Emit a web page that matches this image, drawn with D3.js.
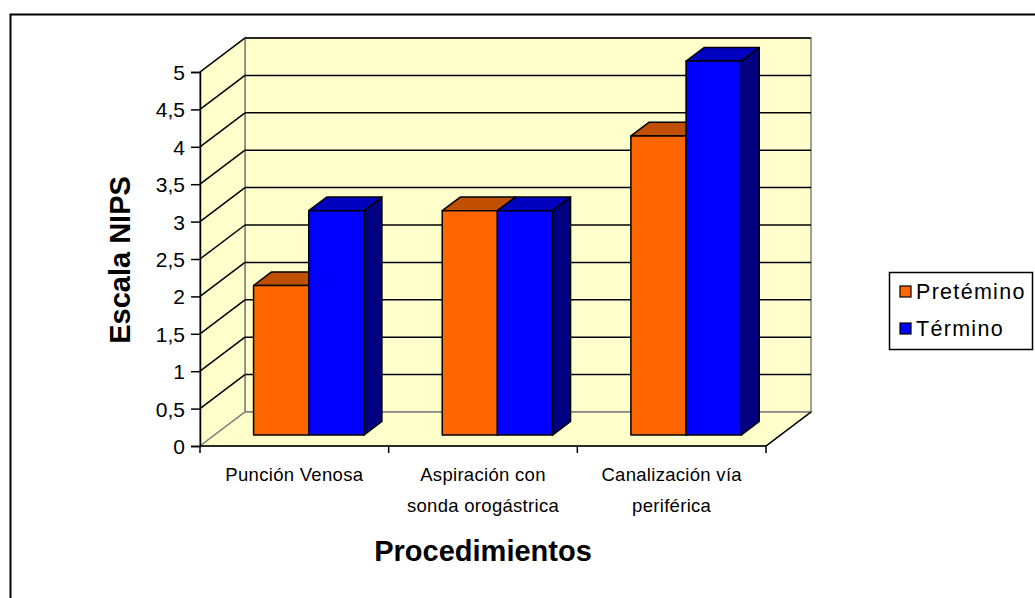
<!DOCTYPE html>
<html>
<head>
<meta charset="utf-8">
<script src="https://cdn.jsdelivr.net/npm/d3@7/dist/d3.min.js"></script>
<style>
  html, body { margin: 0; padding: 0; background: #fff; }
  svg { display: block; font-family: Arial, "Liberation Sans", sans-serif; }
</style>
</head>
<body>
<svg id="chart" width="1035" height="598"></svg>
<script>
// Chart data
const categories = [
  ["Punción Venosa"],
  ["Aspiración con", "sonda orogástrica"],
  ["Canalización vía", "periférica"]
];
const seriesNames = ["Pretémino", "Término"];
const pretermino = [2, 3, 4];
const termino = [3, 3, 5];
const yTicks = [0, 0.5, 1, 1.5, 2, 2.5, 3, 3.5, 4, 4.5, 5];
const yTickLabels = ["0", "0,5", "1", "1,5", "2", "2,5", "3", "3,5", "4", "4,5", "5"];

const values = [pretermino, termino];
const frontColors = ["#FF6600", "#0000FF"];
const topColors = ["#C04F00", "#0000C0"];
const sideColors = ["#A04000", "#000080"];
const fontFamily = "Arial, 'Liberation Sans', sans-serif";

const svg = d3.select("#chart");

// Layout of the 3D box: front plane and depth offset
const plot = { left: 200, right: 766, top: 72, bottom: 446 };
const depth = { dx: 45, dy: -34 };
const barFront = 0.32, barBack = 0.72;   // bar position along depth (0 = front, 1 = back wall)

const catIdx = categories.map((d, i) => i);
const x = d3.scaleBand().domain(catIdx).range([plot.left, plot.right]).padding(0);
const xs = d3.scaleBand().domain([0, 1]).range([0, x.bandwidth()]).paddingInner(0).paddingOuter(0.71);
const y = d3.scaleLinear().domain([0, 5]).range([plot.bottom, plot.top]);

const P = (px, py, t) => [px + depth.dx * t, py + depth.dy * t];
const poly = pts => "M" + pts.map(p => p.join(",")).join("L") + "Z";

// Outer frame
svg.append("rect").attr("x", 10.5).attr("y", 14.5).attr("width", 1100).attr("height", 700)
  .attr("fill", "#fff").attr("stroke", "#000").attr("stroke-width", 2);

const wallFill = "#FFFFCC", wallEdge = "#808080";

// Back wall
const y0 = y(0), y5 = y(5);
svg.append("path")
  .attr("d", poly([P(plot.left, y5, 1), P(plot.right, y5, 1), P(plot.right, y0, 1), P(plot.left, y0, 1)]))
  .attr("fill", wallFill).attr("stroke", wallEdge).attr("stroke-width", 1.5);
// Side wall
svg.append("path")
  .attr("d", poly([P(plot.left, y5, 0), P(plot.left, y5, 1), P(plot.left, y0, 1), P(plot.left, y0, 0)]))
  .attr("fill", wallFill).attr("stroke", wallEdge).attr("stroke-width", 1.5);
// Floor
svg.append("path")
  .attr("d", poly([P(plot.left, y0, 0), P(plot.left, y0, 1), P(plot.right, y0, 1), P(plot.right, y0, 0)]))
  .attr("fill", wallFill).attr("stroke", wallEdge).attr("stroke-width", 1.5);

// Gridlines on the back wall and the side wall
yTicks.filter(v => v > 0).forEach(v => {
  const a = P(plot.left, y(v), 1), b = P(plot.right, y(v), 1), c = P(plot.left, y(v), 0);
  svg.append("line").attr("x1", a[0]).attr("y1", a[1]).attr("x2", b[0]).attr("y2", b[1])
    .attr("stroke", "#000").attr("stroke-width", 1.5);
  svg.append("line").attr("x1", c[0]).attr("y1", c[1]).attr("x2", a[0]).attr("y2", a[1])
    .attr("stroke", "#000").attr("stroke-width", 1.5);
});

// Floor right edge
const fr = P(plot.right, y0, 1);
svg.append("line").attr("x1", plot.right).attr("y1", y0).attr("x2", fr[0]).attr("y2", fr[1])
  .attr("stroke", "#000").attr("stroke-width", 1.5);

// Bars
const bars = svg.append("g");
catIdx.forEach(ci => {
  [0, 1].forEach(si => {
    const v = values[si][ci];
    const xl = x(ci) + xs(si), xr = xl + xs.bandwidth();
    const yt = y(v), yb = y(0);
    const g = bars.append("g").attr("stroke", "#000").attr("stroke-width", 1.5).attr("stroke-linejoin", "round");
    // side face
    g.append("path").attr("fill", sideColors[si])
      .attr("d", poly([P(xr, yt, barFront), P(xr, yt, barBack), P(xr, yb, barBack), P(xr, yb, barFront)]));
    // top face
    g.append("path").attr("fill", topColors[si])
      .attr("d", poly([P(xl, yt, barFront), P(xl, yt, barBack), P(xr, yt, barBack), P(xr, yt, barFront)]));
    // front face
    g.append("path").attr("fill", frontColors[si])
      .attr("d", poly([P(xl, yt, barFront), P(xr, yt, barFront), P(xr, yb, barFront), P(xl, yb, barFront)]));
  });
});

// Y axis
const yAxis = d3.axisLeft(y).tickValues(yTicks).tickSize(9).tickFormat((d, i) => yTickLabels[i]);
const ya = svg.append("g").attr("transform", `translate(${plot.left},0)`).call(yAxis);
ya.select(".domain").attr("stroke", "#000").attr("stroke-width", 1.5);
ya.selectAll(".tick line").attr("stroke", "#000").attr("stroke-width", 1.5);
ya.selectAll(".tick text").attr("font-size", 21).attr("fill", "#000")
  .attr("font-family", fontFamily).attr("x", -15).attr("dy", "0.36em");

// X axis (front floor edge)
const xa = svg.append("g").attr("transform", `translate(0,${plot.bottom})`);
xa.append("line").attr("x1", plot.left).attr("x2", plot.right).attr("stroke", "#000").attr("stroke-width", 1.5);
d3.range(categories.length + 1).forEach(i => {
  const tx = plot.left + i * x.bandwidth();
  xa.append("line").attr("x1", tx).attr("x2", tx).attr("y1", 0).attr("y2", 7)
    .attr("stroke", "#000").attr("stroke-width", 1.5);
});
catIdx.forEach(ci => {
  const cx = x(ci) + x.bandwidth() / 2;
  const t = xa.append("text").attr("text-anchor", "middle")
    .attr("font-size", 18.5).attr("letter-spacing", 0.3).attr("fill", "#000")
    .attr("x", cx).attr("y", 35);
  categories[ci].forEach((line, li) => {
    t.append("tspan").attr("x", cx).attr("dy", li === 0 ? 0 : 31).text(line);
  });
});

// Axis titles
svg.append("text").attr("transform", "translate(130,260) rotate(-90)")
  .attr("text-anchor", "middle").attr("font-size", 29).attr("font-weight", "bold").text("Escala NIPS");
svg.append("text").attr("x", 483).attr("y", 561)
  .attr("text-anchor", "middle").attr("font-size", 29).attr("font-weight", "bold").text("Procedimientos");

// Legend
const lg = svg.append("g");
lg.append("rect").attr("x", 889.5).attr("y", 272.5).attr("width", 143).attr("height", 77)
  .attr("fill", "#fff").attr("stroke", "#000").attr("stroke-width", 1.5);
seriesNames.forEach((name, i) => {
  const cy = 292 + i * 37;
  lg.append("rect").attr("x", 900).attr("y", cy - 6).attr("width", 11).attr("height", 11)
    .attr("fill", frontColors[i]).attr("stroke", "#000").attr("stroke-width", 1.2);
  lg.append("text").attr("x", 916).attr("y", cy + 7).attr("font-size", 21.5)
    .attr("letter-spacing", 1.3).text(name);
});
</script>
</body>
</html>
